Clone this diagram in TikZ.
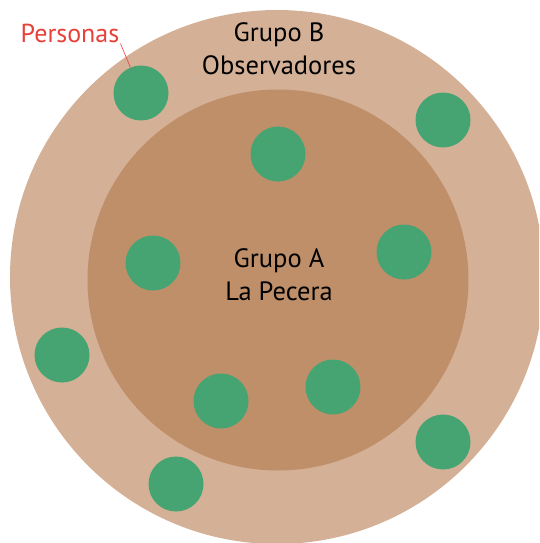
\documentclass[tikz,border=0pt]{standalone}
\usepackage{fontspec}
\setmainfont{PT Sans}
\usetikzlibrary{positioning}

\definecolor{arena}{HTML}{D4B096}
\definecolor{pecera}{HTML}{BF8F6A}
\definecolor{verde}{HTML}{46A473}
\definecolor{rojo}{HTML}{E8413A}

\tikzset{
  persona/.style={circle,fill=verde,minimum size=55pt,inner sep=0pt},
  grupo/.style={align=center,font=\fontsize{26.5}{33}\selectfont},
}

\begin{document}
\begin{tikzpicture}[x=1pt,y=-1pt]
   \useasboundingbox (0,0) rectangle (539,543);
   \clip (0,0) rectangle (539,543);
   % circulos
   \node[circle,fill=arena,minimum size=534pt,inner sep=0pt] (grupoB) at (277,277) {};
   \node[circle,fill=pecera,minimum size=381pt,inner sep=0pt] (grupoA) at (278,280) {};
   % personas
   \node[persona] (p_1)  at (141,93)  {};
   \node[persona] (p_2)  at (443,120) {};
   \node[persona] (p_3)  at (278,154) {};
   \node[persona] (p_4)  at (153,263) {};
   \node[persona] (p_5)  at (404,252) {};
   \node[persona] (p_6)  at (62,355)  {};
   \node[persona] (p_7)  at (221,401) {};
   \node[persona] (p_8)  at (333,387) {};
   \node[persona] (p_9)  at (443,442) {};
   \node[persona] (p_10) at (176,484) {};
   % textos
   \node[grupo] (txtB) at (279,49)  {Grupo B\\Observadores};
   \node[grupo] (txtA) at (279,275) {Grupo A\\La Pecera};
   \node[font=\fontsize{26}{30}\selectfont,text=rojo,inner sep=1pt] (personas) at (70,33) {Personas};
    \draw[rojo,line width=0.6pt] (personas.south east) -- (p_1);
\end{tikzpicture}
\end{document}
